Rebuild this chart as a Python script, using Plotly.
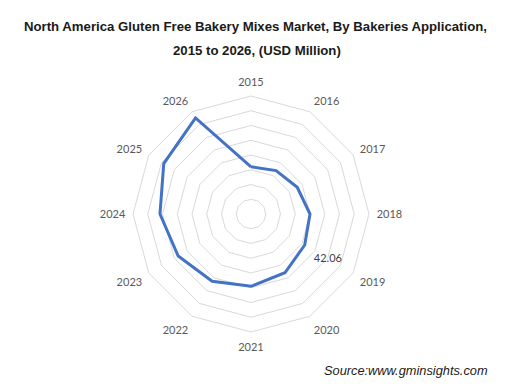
import plotly.graph_objects as go

years = ["2015", "2016", "2017", "2018", "2019", "2020", "2021",
         "2022", "2023", "2024", "2025", "2026"]
values = [32.0, 34.0, 36.2, 40.0, 42.06, 46.0, 49.0, 52.7, 57.0, 61.7, 68.3, 75.2]
label_year = "2019"
label_value = 42.06

# page body has an 8px margin, so the figure is drawn 8px smaller and offset
OFF = 8
W, H = 518 - OFF, 389 - OFF
cx, cy, R = 251 - OFF, 214 - OFF, 118

fig = go.Figure()
fig.add_trace(go.Scatterpolar(
    r=values + [values[0]],
    theta=years + [years[0]],
    mode="lines",
    line=dict(color="#4472C4", width=3),
    hoverinfo="skip",
))
fig.add_trace(go.Scatterpolar(
    r=[label_value], theta=[label_year],
    mode="markers+text",
    marker=dict(size=13, color="rgba(0,0,0,0)"),
    text=[f"{label_value:.2f}"],
    textposition="bottom right",
    textfont=dict(family="Lato, Carlito, sans-serif", size=11, color="#404040"),
    hoverinfo="skip",
))

fig.update_layout(
    width=W, height=H,
    paper_bgcolor="white",
    plot_bgcolor="white",
    showlegend=False,
    margin=dict(l=0, r=0, t=0, b=0),
    polar=dict(
        domain=dict(x=[(cx - R) / W, (cx + R) / W],
                    y=[(H - cy - R) / H, (H - cy + R) / H]),
        gridshape="linear",
        bgcolor="white",
        radialaxis=dict(range=[0, 80], dtick=10, showticklabels=False,
                        ticks="", showline=False,
                        gridcolor="#d9d9d9", gridwidth=1),
        angularaxis=dict(direction="clockwise", rotation=90,
                         categoryorder="array", categoryarray=years,
                         showgrid=False, ticks="outside", ticklen=5,
                         tickcolor="rgba(0,0,0,0)",
                         showline=True, linecolor="#d9d9d9", linewidth=1,
                         tickfont=dict(family="Lato, Carlito, sans-serif",
                                       size=11, color="#595959")),
    ),
    annotations=[
        dict(text="<b>North America Gluten Free Bakery Mixes Market, By Bakeries Application,</b>",
             x=(255 - OFF) / W, y=1 - (27 - OFF) / H, xref="paper", yref="paper",
             showarrow=False, xanchor="center", yanchor="middle",
             font=dict(family="Liberation Sans, Arial", size=13.2, color="#1a1a1a")),
        dict(text="<b>2015 to 2026, (USD Million)</b>",
             x=(257 - OFF) / W, y=1 - (51 - OFF) / H, xref="paper", yref="paper",
             showarrow=False, xanchor="center", yanchor="middle",
             font=dict(family="Liberation Sans, Arial", size=13.2, color="#1a1a1a")),
        dict(text="<i>Source:www.gminsights.com</i>",
             x=(490 - OFF) / W, y=1 - (370 - OFF) / H, xref="paper", yref="paper",
             showarrow=False, xanchor="right", yanchor="middle",
             font=dict(family="Liberation Sans, Arial", size=12.8, color="#1a1a1a")),
    ],
)

fig.write_html("out.html")
